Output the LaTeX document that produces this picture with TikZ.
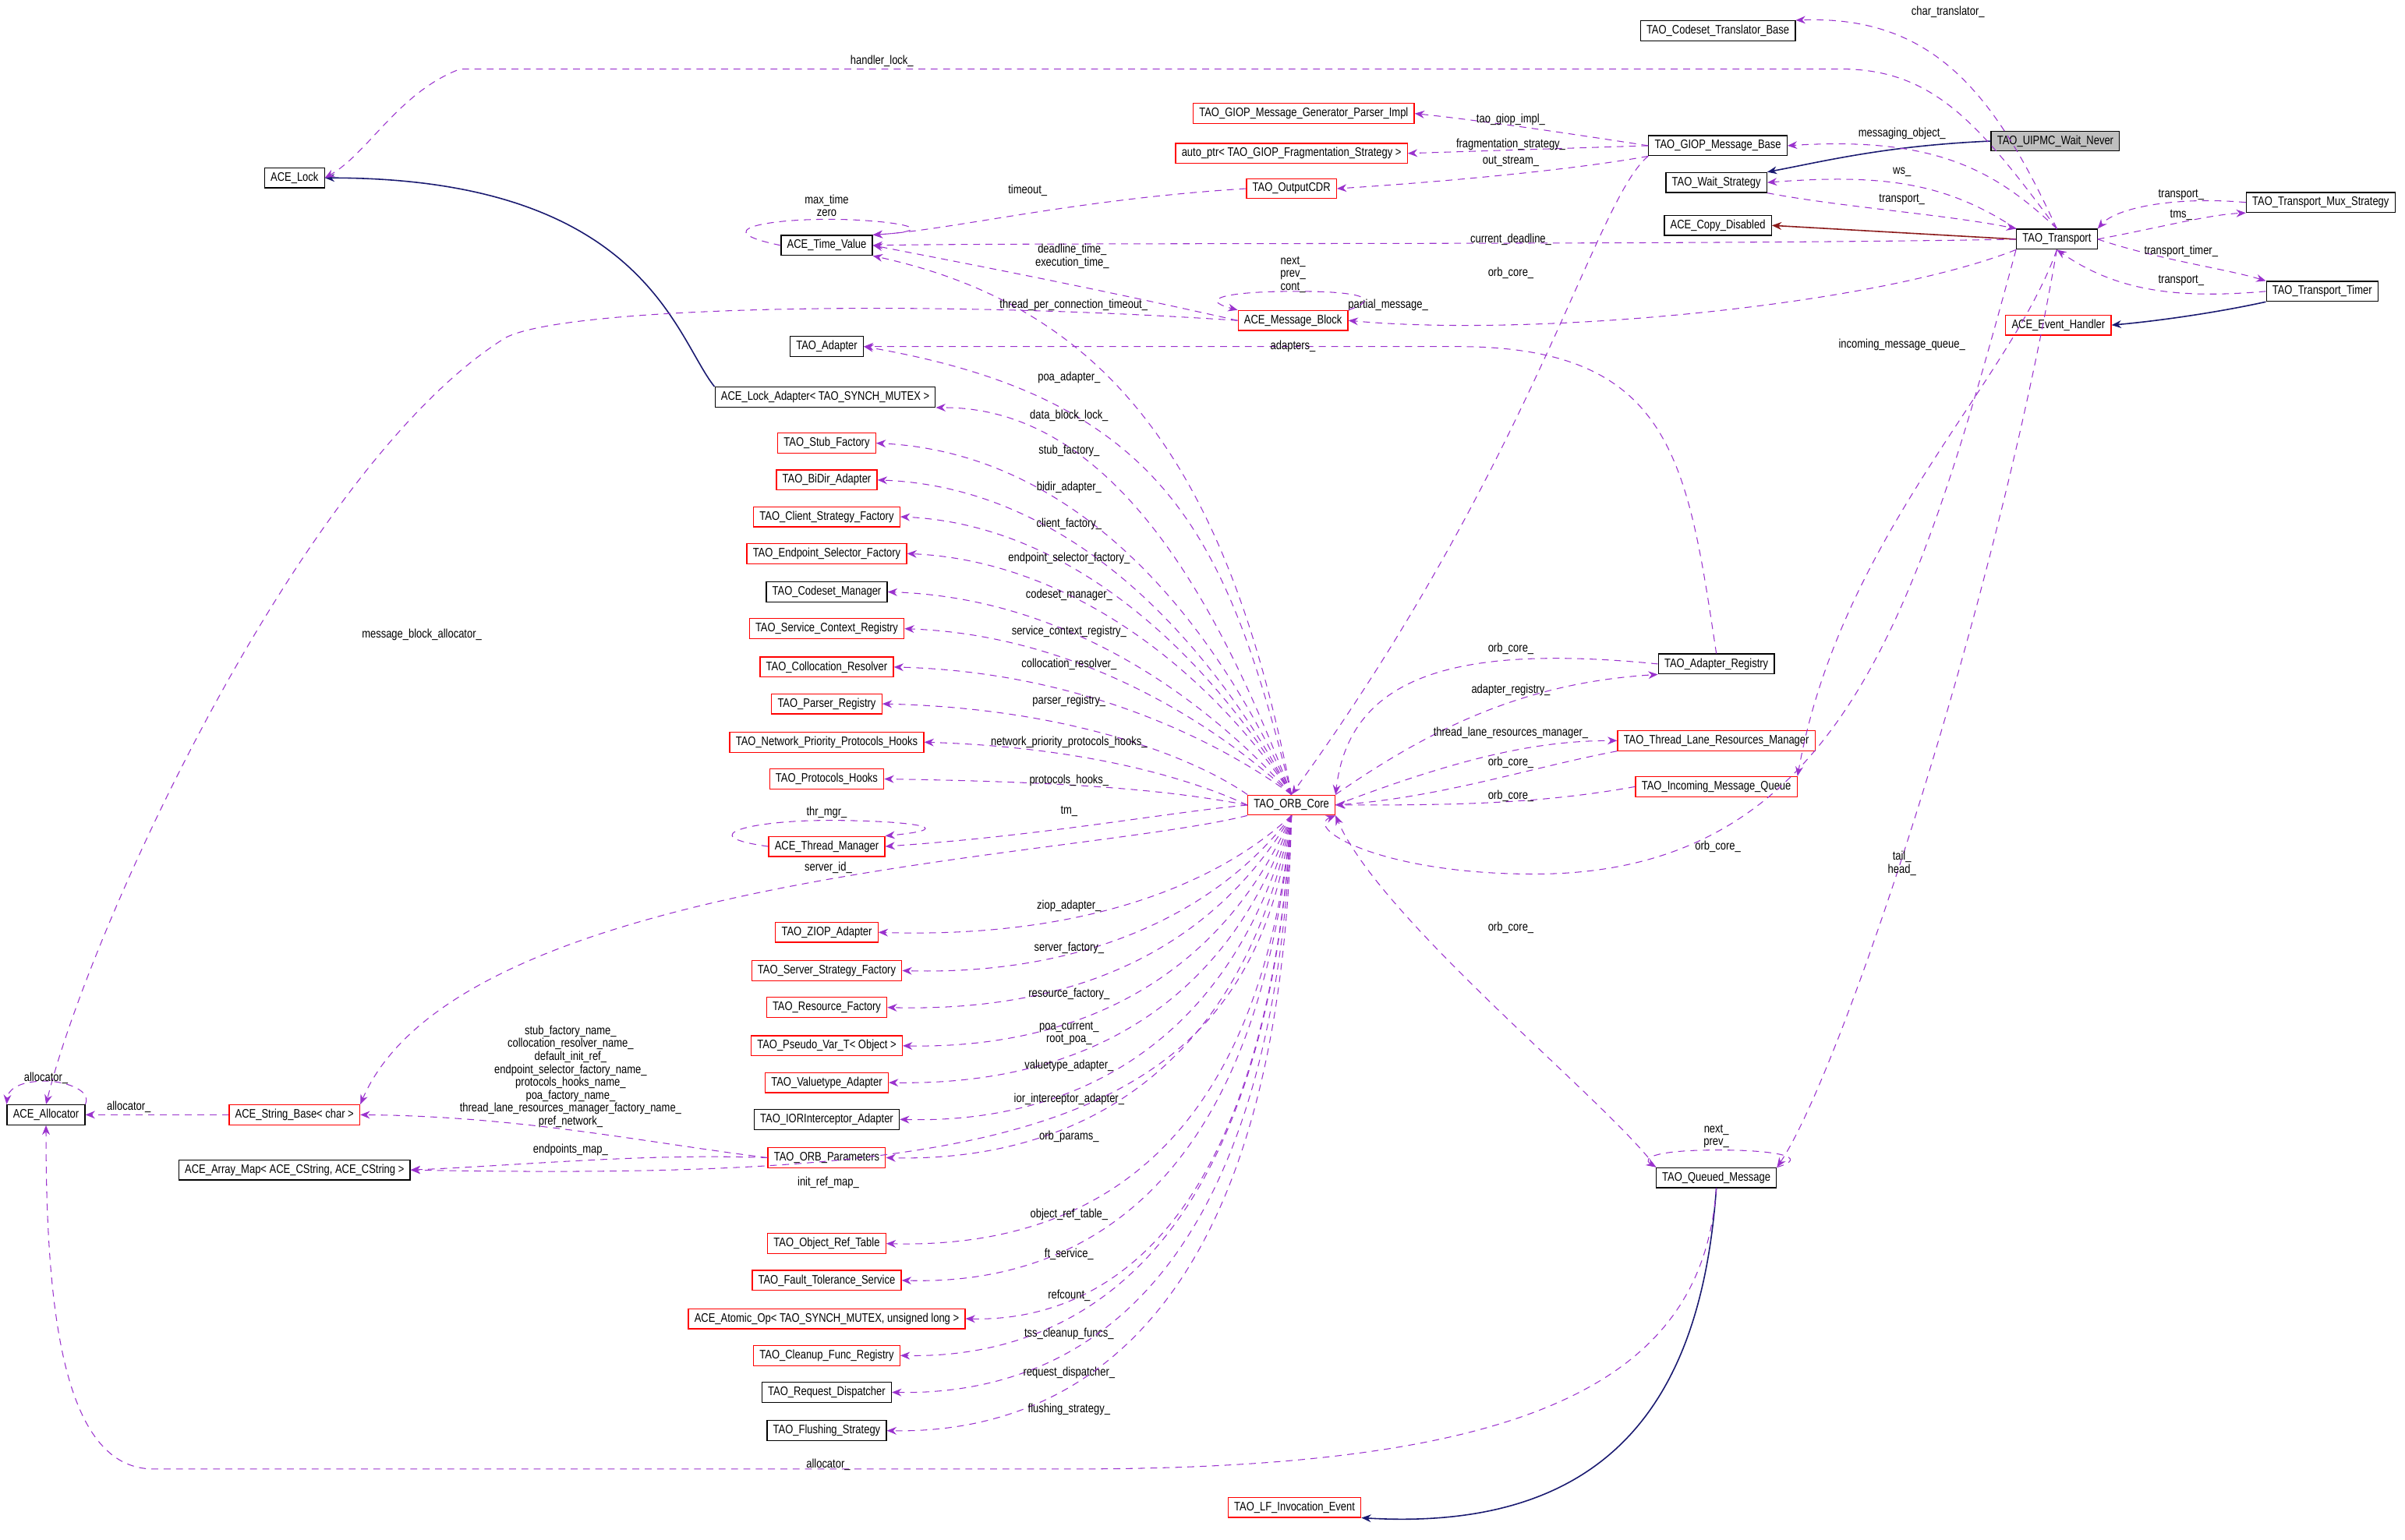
\documentclass[tikz,border=0pt]{standalone}
\usepackage{fontspec}
\setmainfont{Liberation Sans}[FakeStretch=0.82]
\usetikzlibrary{arrows.meta}
\definecolor{mem}{HTML}{9A32CD}
\definecolor{inh}{HTML}{191970}
\definecolor{pinh}{HTML}{8B1A1A}
\begin{document}
\begin{tikzpicture}[x=0.01967cm,y=-0.01967cm,
  every node/.style={font=\fontsize{4.5}{4.9}\selectfont},
  cls/.style={draw=black,line width=0.35pt,minimum height=7.3pt,inner xsep=2.2pt,inner ysep=0.8pt,fill=white},
  rcls/.style={cls,draw=red},
  root/.style={cls,fill=black!25},
  memb/.style={draw=mem,dash pattern=on 2.5pt off 2pt,line width=0.3pt,-{Stealth[length=3.5pt,width=2.8pt]}},
  inhe/.style={draw=inh,line width=0.45pt,-{Stealth[length=3.5pt,width=2.8pt]}},
  pinhe/.style={draw=pinh,line width=0.45pt,-{Stealth[length=3.5pt,width=2.8pt]}},
  lbl/.style={inner sep=0.5pt,align=center,font=\fontsize{4.5}{4.7}\selectfont}]
\useasboundingbox (0,0) rectangle (1568,1004);
% nodes
\node[cls] (ctb) at (1120,20) {TAO\_Codeset\_Translator\_Base};
\node[root] (wn) at (1340,92) {TAO\_UIPMC\_Wait\_Never};
\node[cls] (gmb) at (1120,95) {TAO\_GIOP\_Message\_Base};
\node[rcls] (gpi) at (850,74) {TAO\_GIOP\_Message\_Generator\_Parser\_Impl};
\node[rcls] (ap) at (842,100) {auto\_ptr< TAO\_GIOP\_Fragmentation\_Strategy >};
\node[rcls] (ocdr) at (842,123) {TAO\_OutputCDR};
\node[cls] (ws) at (1119,119) {TAO\_Wait\_Strategy};
\node[cls] (cd) at (1120,147) {ACE\_Copy\_Disabled};
\node[cls] (tr) at (1341,156) {TAO\_Transport};
\node[cls] (tms) at (1513,132) {TAO\_Transport\_Mux\_Strategy};
\node[cls] (tt) at (1514,190) {TAO\_Transport\_Timer};
\node[rcls] (eh) at (1342,212) {ACE\_Event\_Handler};
\node[cls] (lock) at (192,116) {ACE\_Lock};
\node[cls] (tv) at (539,160) {ACE\_Time\_Value};
\node[rcls] (mb) at (843,209) {ACE\_Message\_Block};
\node[cls] (ad) at (539,226) {TAO\_Adapter};
\node[cls] (la) at (538,259) {ACE\_Lock\_Adapter< TAO\_SYNCH\_MUTEX >};
\node[rcls] (n1) at (539,289) {TAO\_Stub\_Factory};
\node[rcls] (n2) at (539,313) {TAO\_BiDir\_Adapter};
\node[rcls] (n3) at (539,337) {TAO\_Client\_Strategy\_Factory};
\node[rcls] (n4) at (539,361) {TAO\_Endpoint\_Selector\_Factory};
\node[cls] (n5) at (539,386) {TAO\_Codeset\_Manager};
\node[rcls] (n6) at (539,410) {TAO\_Service\_Context\_Registry};
\node[rcls] (n7) at (539,435) {TAO\_Collocation\_Resolver};
\node[rcls] (n8) at (539,459) {TAO\_Parser\_Registry};
\node[rcls] (n9) at (539,484) {TAO\_Network\_Priority\_Protocols\_Hooks};
\node[rcls] (n10) at (539,508) {TAO\_Protocols\_Hooks};
\node[rcls] (thm) at (539,552) {ACE\_Thread\_Manager};
\node[rcls] (m1) at (539,608) {TAO\_ZIOP\_Adapter};
\node[rcls] (m2) at (539,633) {TAO\_Server\_Strategy\_Factory};
\node[rcls] (m3) at (539,657) {TAO\_Resource\_Factory};
\node[rcls] (m4) at (539,682) {TAO\_Pseudo\_Var\_T< Object >};
\node[rcls] (m5) at (539,706) {TAO\_Valuetype\_Adapter};
\node[cls] (m6) at (539,730) {TAO\_IORInterceptor\_Adapter};
\node[rcls] (op) at (539,755) {TAO\_ORB\_Parameters};
\node[rcls] (k1) at (539,811) {TAO\_Object\_Ref\_Table};
\node[rcls] (k2) at (539,835) {TAO\_Fault\_Tolerance\_Service};
\node[rcls] (k3) at (539,860) {ACE\_Atomic\_Op< TAO\_SYNCH\_MUTEX, unsigned long >};
\node[rcls] (k4) at (539,884) {TAO\_Cleanup\_Func\_Registry};
\node[cls] (k5) at (539,908) {TAO\_Request\_Dispatcher};
\node[cls] (k6) at (539,933) {TAO\_Flushing\_Strategy};
\node[rcls] (orb) at (842,525) {TAO\_ORB\_Core};
\node[cls] (ar) at (1119,433) {TAO\_Adapter\_Registry};
\node[rcls] (tlr) at (1119,483) {TAO\_Thread\_Lane\_Resources\_Manager};
\node[rcls] (imq) at (1119,513) {TAO\_Incoming\_Message\_Queue};
\node[cls] (qm) at (1119,768) {TAO\_Queued\_Message};
\node[rcls] (lfe) at (844,983) {TAO\_LF\_Invocation\_Event};
\node[cls] (alloc) at (30,727) {ACE\_Allocator};
\node[rcls] (sb) at (192,727) {ACE\_String\_Base< char >};
\node[cls] (am) at (192,763) {ACE\_Array\_Map< ACE\_CString, ACE\_CString >};
% inheritance
\draw[inhe] (wn.west) .. controls (1230,95) and (1190,105) .. (ws.north east);
\draw[pinhe] (tr.west) -- (cd.east);
\draw[inhe] (tt.south west) .. controls (1440,205) and (1400,210) .. (eh.east);
\draw[inhe] (la.north west) .. controls (440,220) and (420,116) .. (lock.east);
\draw[inhe] (qm.south) .. controls (1110,900) and (1060,1000) .. (lfe.south east);
% Transport members
\draw[memb] (tr.north) .. controls (1300,60) and (1260,10) .. (ctb.north east) node[lbl] at (1270,8) {char\_translator\_};
\draw[memb] (tr.north) .. controls (1290,80) and (1260,45) .. (1200,45) -- (300,45) .. controls (260,60) and (240,100) .. (lock.east) node[lbl] at (575,40) {handler\_lock\_};
\draw[memb] (tr.north) .. controls (1300,110) and (1260,89) .. (gmb.east) node[lbl] at (1240,87) {messaging\_object\_};
\draw[memb] (tr.north west) .. controls (1270,120) and (1230,113) .. (ws.east) node[lbl] at (1240,112) {ws\_};
\draw[memb] (ws.south east) .. controls (1200,135) and (1270,140) .. (tr.north west) node[lbl] at (1240,130) {transport\_};
\draw[memb] (tr.east) .. controls (1410,148) and (1440,140) .. (tms.south west) node[lbl] at (1422,140) {tms\_};
\draw[memb] (tms.west) .. controls (1420,128) and (1380,135) .. (tr.north east) node[lbl] at (1422,127) {transport\_};
\draw[memb] (tr.east) .. controls (1410,170) and (1450,175) .. (tt.north west) node[lbl] at (1422,164) {transport\_timer\_};
\draw[memb] (tt.west) .. controls (1420,195) and (1380,190) .. (tr.south) node[lbl] at (1422,183) {transport\_};
\draw[memb] (tr.west) .. controls (1100,160) and (700,158) .. (tv.east) node[lbl] at (985,156) {current\_deadline\_};
\draw[memb] (tr.south west) .. controls (1220,200) and (1000,220) .. (mb.east) node[lbl] at (905,199) {partial\_message\_};
\draw[memb] (tr.south) .. controls (1310,250) and (1200,350) .. (imq.north east) node[lbl] at (1240,225) {incoming\_message\_queue\_};
\draw[memb] (tr.south west) .. controls (1250,400) and (1200,570) .. (1000,570) .. controls (900,570) and (850,540) .. (orb.south east) node[lbl] at (1120,552) {orb\_core\_};
\draw[memb] (tr.south) .. controls (1300,400) and (1200,700) .. (qm.north east) node[lbl] at (1240,563) {tail\_\\head\_};
% GIOP message base
\draw[memb] (gmb.west) .. controls (1010,85) and (960,78) .. (gpi.east) node[lbl] at (985,78) {tao\_giop\_impl\_};
\draw[memb] (gmb.west) -- (ap.east) node[lbl] at (985,94) {fragmentation\_strategy\_};
\draw[memb] (gmb.south west) .. controls (1030,110) and (950,118) .. (ocdr.east) node[lbl] at (985,105) {out\_stream\_};
\draw[memb] (gmb.south west) .. controls (1040,130) and (1000,300) .. (orb.north) node[lbl] at (985,178) {orb\_core\_};
\draw[memb] (ocdr.west) .. controls (700,130) and (620,150) .. (tv.north east) node[lbl] at (670,124) {timeout\_};
% time value, message block
\draw[memb] (tv.west) .. controls (460,150) and (500,143) .. (540,143) .. controls (580,143) and (620,150) .. (tv.north east) node[lbl] at (539,134) {max\_time\\zero};
\draw[memb] (mb.west) .. controls (700,185) and (620,170) .. (tv.east) node[lbl] at (699,167) {deadline\_time\_\\execution\_time\_};
\draw[memb] (mb.north east) .. controls (900,195) and (890,190) .. (845,190) .. controls (800,190) and (780,195) .. (mb.north west) node[lbl] at (843,179) {next\_\\prev\_\\cont\_};
\draw[memb] (mb.west) .. controls (600,195) and (370,200) .. (330,220) .. controls (200,300) and (60,600) .. (alloc.north) node[lbl] at (275,414) {message\_block\_allocator\_};
\draw[memb] (orb.north) .. controls (800,300) and (720,200) .. (tv.south east) node[lbl] at (700,199) {thread\_per\_connection\_timeout\_};
\draw[memb] (ar.north) .. controls (1100,300) and (1090,226) .. (950,226) -- (ad.east) node[lbl] at (843,226) {adapters\_};
% ORB core members
\draw[memb] (orb.north) .. controls (800,350) and (760,260) .. (ad.east) node[lbl] at (697,246) {poa\_adapter\_};
\draw[memb] (orb.north) .. controls (790,380) and (720,265) .. (la.south east) node[lbl] at (697,271) {data\_block\_lock\_};
\draw[memb] (orb.north) .. controls (790,400) and (700,295) .. (n1.east) node[lbl] at (697,294) {stub\_factory\_};
\draw[memb] (orb.north) .. controls (790,420) and (700,318) .. (n2.east) node[lbl] at (697,318) {bidir\_adapter\_};
\draw[memb] (orb.north) .. controls (790,430) and (700,342) .. (n3.east) node[lbl] at (697,342) {client\_factory\_};
\draw[memb] (orb.north) .. controls (790,440) and (700,366) .. (n4.east) node[lbl] at (697,364) {endpoint\_selector\_factory\_};
\draw[memb] (orb.north) .. controls (790,460) and (700,390) .. (n5.east) node[lbl] at (697,388) {codeset\_manager\_};
\draw[memb] (orb.north) .. controls (790,470) and (700,414) .. (n6.east) node[lbl] at (697,412) {service\_context\_registry\_};
\draw[memb] (orb.north) .. controls (790,480) and (700,438) .. (n7.east) node[lbl] at (697,433) {collocation\_resolver\_};
\draw[memb] (orb.north west) .. controls (780,495) and (700,462) .. (n8.east) node[lbl] at (697,457) {parser\_registry\_};
\draw[memb] (orb.west) .. controls (770,505) and (700,487) .. (n9.east) node[lbl] at (697,484) {network\_priority\_protocols\_hooks\_};
\draw[memb] (orb.west) .. controls (760,515) and (700,510) .. (n10.east) node[lbl] at (697,509) {protocols\_hooks\_};
\draw[memb] (orb.west) .. controls (760,530) and (680,545) .. (thm.east) node[lbl] at (697,529) {tm\_};
\draw[memb] (thm.west) .. controls (450,545) and (490,535) .. (540,535) .. controls (590,535) and (630,540) .. (thm.north east) node[lbl] at (539,530) {thr\_mgr\_};
\draw[memb] (orb.south west) .. controls (700,560) and (300,570) .. (sb.north east) node[lbl] at (540,566) {server\_id\_};
\draw[memb] (orb.south) .. controls (790,580) and (700,612) .. (m1.east) node[lbl] at (697,591) {ziop\_adapter\_};
\draw[memb] (orb.south) .. controls (790,600) and (700,636) .. (m2.east) node[lbl] at (697,618) {server\_factory\_};
\draw[memb] (orb.south) .. controls (790,620) and (700,660) .. (m3.east) node[lbl] at (697,648) {resource\_factory\_};
\draw[memb] (orb.south) .. controls (795,640) and (700,684) .. (m4.east) node[lbl] at (697,674) {poa\_current\_\\root\_poa\_};
\draw[memb] (orb.south) .. controls (800,660) and (700,708) .. (m5.east) node[lbl] at (697,695) {valuetype\_adapter\_};
\draw[memb] (orb.south) .. controls (805,680) and (700,733) .. (m6.east) node[lbl] at (697,717) {ior\_interceptor\_adapter\_};
\draw[memb] (orb.south) .. controls (810,700) and (700,758) .. (op.east) node[lbl] at (697,741) {orb\_params\_};
\draw[memb] (orb.south) .. controls (815,740) and (650,770) .. (am.east) node[lbl] at (540,771) {init\_ref\_map\_};
\draw[memb] (orb.south) .. controls (820,760) and (700,814) .. (k1.east) node[lbl] at (697,792) {object\_ref\_table\_};
\draw[memb] (orb.south) .. controls (820,780) and (700,838) .. (k2.east) node[lbl] at (697,818) {ft\_service\_};
\draw[memb] (orb.south) .. controls (825,800) and (720,862) .. (k3.east) node[lbl] at (697,845) {refcount\_};
\draw[memb] (orb.south) .. controls (825,820) and (700,886) .. (k4.east) node[lbl] at (697,870) {tss\_cleanup\_funcs\_};
\draw[memb] (orb.south) .. controls (830,840) and (700,910) .. (k5.east) node[lbl] at (697,895) {request\_dispatcher\_};
\draw[memb] (orb.south) .. controls (835,860) and (700,935) .. (k6.east) node[lbl] at (697,919) {flushing\_strategy\_};
% ORB params
\draw[memb] (op.west) .. controls (420,745) and (340,728) .. (sb.east) node[lbl] at (372,702) {stub\_factory\_name\_\\collocation\_resolver\_name\_\\default\_init\_ref\_\\endpoint\_selector\_factory\_name\_\\protocols\_hooks\_name\_\\poa\_factory\_name\_\\thread\_lane\_resources\_manager\_factory\_name\_\\pref\_network\_};
\draw[memb] (op.west) .. controls (420,752) and (340,760) .. (am.east) node[lbl] at (372,750) {endpoints\_map\_};
\draw[memb] (sb.west) -- (alloc.east) node[lbl] at (84,722) {allocator\_};
\draw[memb] (alloc.north east) .. controls (60,710) and (40,705) .. (30,705) .. controls (10,705) and (5,712) .. (alloc.north west) node[lbl] at (30,703) {allocator\_};
% registry / tlr / imq
\draw[memb] (ar.west) .. controls (950,420) and (880,440) .. (orb.north east) node[lbl] at (985,423) {orb\_core\_};
\draw[memb] (orb.north east) .. controls (940,470) and (1000,445) .. (ar.south west) node[lbl] at (985,450) {adapter\_registry\_};
\draw[memb] (orb.east) .. controls (950,495) and (1000,483) .. (tlr.west) node[lbl] at (985,478) {thread\_lane\_resources\_manager\_};
\draw[memb] (tlr.south west) .. controls (1000,500) and (940,520) .. (orb.east) node[lbl] at (985,497) {orb\_core\_};
\draw[memb] (imq.west) .. controls (1000,525) and (940,525) .. (orb.east) node[lbl] at (985,519) {orb\_core\_};
% queued message
\draw[memb] (qm.north west) .. controls (1050,720) and (900,600) .. (orb.south east) node[lbl] at (985,605) {orb\_core\_};
\draw[memb] (qm.north east) .. controls (1180,755) and (1160,750) .. (1120,750) .. controls (1080,750) and (1070,755) .. (qm.north west) node[lbl] at (1119,741) {next\_\\prev\_};
\draw[memb] (qm.south) .. controls (1110,900) and (1000,958) .. (700,958) -- (100,958) .. controls (40,958) and (30,850) .. (alloc.south) node[lbl] at (540,955) {allocator\_};
\end{tikzpicture}
\end{document}
